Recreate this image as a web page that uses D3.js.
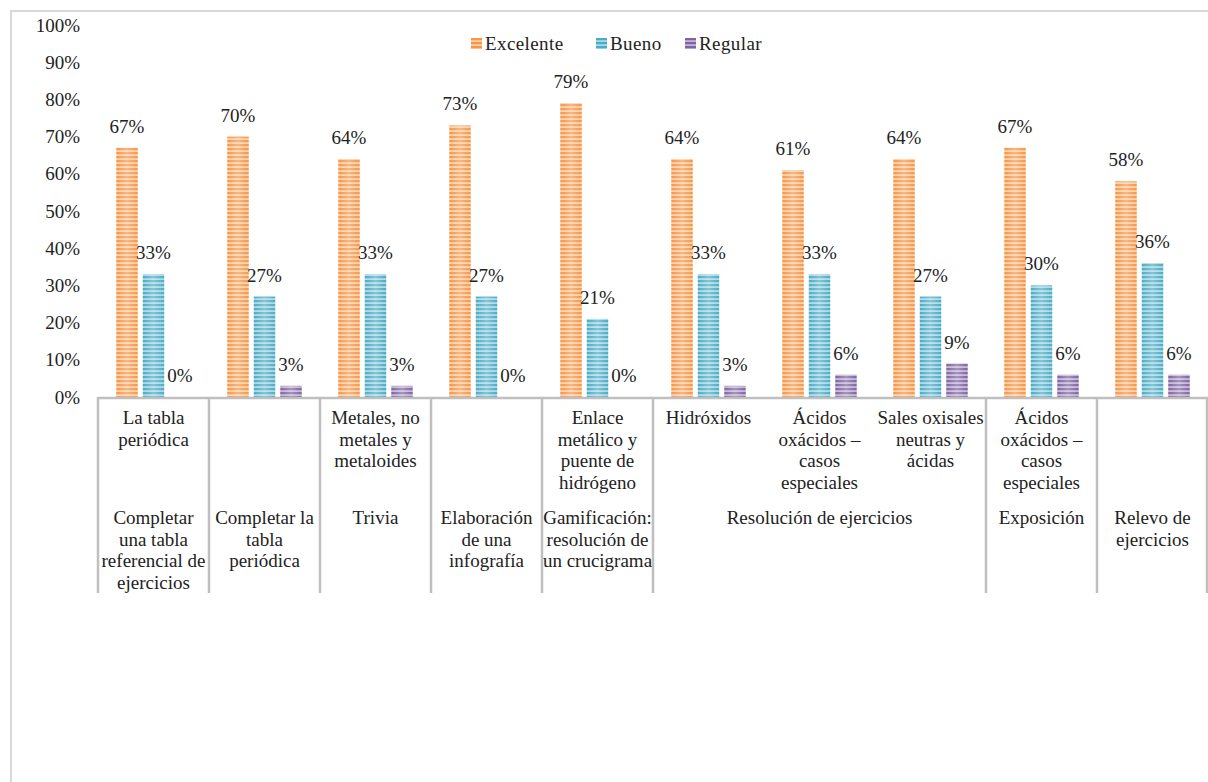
<!DOCTYPE html>
<html lang="es">
<head>
<meta charset="UTF-8">
<title>Resultados por actividad</title>
<script src="https://d3js.org/d3.v7.min.js"></script>
<style>
  body { margin: 0; background: #fff; }
  text { font-family: "Liberation Serif", "Times New Roman", serif; fill: #222; }
</style>
</head>
<body>
<script>
// Data
const series = ["Excelente", "Bueno", "Regular"];
const excelente = [67, 70, 64, 73, 79, 64, 61, 64, 67, 58];
const bueno = [33, 27, 33, 27, 21, 33, 33, 27, 30, 36];
const regular = [0, 3, 3, 0, 0, 3, 6, 9, 6, 6];
const innerLabels = [
  "La tabla\nperiódica", "", "Metales, no\nmetales y\nmetaloides", "",
  "Enlace\nmetálico y\npuente de\nhidrógeno", "Hidróxidos",
  "Ácidos\noxácidos –\ncasos\nespeciales", "Sales oxisales\nneutras y\nácidas",
  "Ácidos\noxácidos –\ncasos\nespeciales", ""
];
const outerLabels = [
  "Completar\nuna tabla\nreferencial de\nejercicios", "Completar la\ntabla\nperiódica",
  "Trivia", "Elaboración\nde una\ninfografía", "Gamificación:\nresolución de\nun crucigrama",
  "Resolución de ejercicios", "Exposición", "Relevo de\nejercicios"
];
const outerSpans = [1, 1, 1, 1, 1, 3, 1, 1];
const yTicks = [0, 10, 20, 30, 40, 50, 60, 70, 80, 90, 100];

const values = [excelente, bueno, regular];
const colors = [
  { main: "#F79646", light: "#FCCFA8" },
  { main: "#4BACC6", light: "#A9D8E5" },
  { main: "#8064A2", light: "#C3B5D6" }
];

const width = 1208, height = 782;
const fontSize = 19;
const svg = d3.select("body").append("svg")
  .attr("width", width).attr("height", height)
  .attr("font-family", "Liberation Serif, Times New Roman, serif");

// Patterns (striped fill)
const defs = svg.append("defs");
colors.forEach((c, i) => {
  const p = defs.append("pattern")
    .attr("id", "pat" + i)
    .attr("patternUnits", "userSpaceOnUse")
    .attr("width", 4).attr("height", 4);
  p.append("rect").attr("width", 4).attr("height", 4).attr("fill", c.light);
  p.append("rect").attr("width", 4).attr("height", 2.2).attr("fill", c.main);
});
const gloss = defs.append("linearGradient").attr("id", "gloss")
  .attr("x1", "0%").attr("x2", "100%");
gloss.append("stop").attr("offset", "0%").attr("stop-color", "#fff").attr("stop-opacity", 0);
gloss.append("stop").attr("offset", "50%").attr("stop-color", "#fff").attr("stop-opacity", 0.3);
gloss.append("stop").attr("offset", "100%").attr("stop-color", "#fff").attr("stop-opacity", 0);

// Outer frame
svg.append("path")
  .attr("d", `M11,${height} V11 H${width}`)
  .attr("fill", "none").attr("stroke", "#d9d9d9").attr("stroke-width", 2);

// Scales
const x = d3.scaleBand().domain(d3.range(excelente.length)).range([98, 1208]);
const xs = d3.scaleBand().domain(d3.range(series.length)).range([0, x.bandwidth()])
  .paddingInner(0.19).paddingOuter(0.69);
const y = d3.scaleLinear().domain([0, 100]).range([397, 25]);

// Y axis labels
svg.append("g").selectAll("text").data(yTicks).join("text")
  .attr("x", 80).attr("y", d => y(d)).attr("dy", "0.35em")
  .attr("text-anchor", "end").attr("font-size", fontSize)
  .text(d => d + "%");

// Bars
const groups = svg.append("g").selectAll("g").data(d3.range(excelente.length)).join("g")
  .attr("transform", i => `translate(${x(i)},0)`);
series.forEach((s, si) => {
  groups.append("rect")
    .attr("x", xs(si)).attr("width", xs.bandwidth())
    .attr("y", i => y(values[si][i])).attr("height", i => y(0) - y(values[si][i]))
    .attr("fill", `url(#pat${si})`);
  groups.append("rect")
    .attr("x", xs(si)).attr("width", xs.bandwidth())
    .attr("y", i => y(values[si][i])).attr("height", i => y(0) - y(values[si][i]))
    .attr("fill", "url(#gloss)");
  groups.append("text")
    .attr("x", xs(si) + xs.bandwidth() / 2)
    .attr("y", i => y(values[si][i]) - 15)
    .attr("text-anchor", "middle").attr("font-size", fontSize)
    .text(i => values[si][i] + "%");
});

// Category axis (two levels)
const axisColor = "#bfbfbf";
svg.append("line")
  .attr("x1", x(0)).attr("x2", width).attr("y1", y(0) + 1).attr("y2", y(0) + 1)
  .attr("stroke", axisColor).attr("stroke-width", 2.5);

let start = 0;
const outerPos = outerSpans.map(sp => { const o = { start, end: start + sp }; start += sp; return o; });
const bounds = [0, ...outerPos.map(o => o.end)];
svg.append("g").selectAll("line").data(bounds).join("line")
  .attr("x1", b => b < excelente.length ? x(b) : width - 1)
  .attr("x2", b => b < excelente.length ? x(b) : width - 1)
  .attr("y1", y(0)).attr("y2", 593)
  .attr("stroke", axisColor).attr("stroke-width", 2.5);

const lineH = 21.5;
function multiline(sel, yTop) {
  sel.each(function (d) {
    const t = d3.select(this);
    d.text.split("\n").forEach((ln, k) => {
      t.append("tspan").attr("x", d.cx).attr("y", yTop + k * lineH).text(ln);
    });
  });
}

svg.append("g").selectAll("text")
  .data(innerLabels.map((t, i) => ({ text: t, cx: x(i) + x.bandwidth() / 2 })))
  .join("text").attr("text-anchor", "middle").attr("font-size", fontSize)
  .call(multiline, 424);

svg.append("g").selectAll("text")
  .data(outerLabels.map((t, k) => ({
    text: t,
    cx: (x(outerPos[k].start) + x(outerPos[k].end - 1) + x.bandwidth()) / 2
  })))
  .join("text").attr("text-anchor", "middle").attr("font-size", fontSize)
  .call(multiline, 524);

// Legend
const legendX = [471, 596, 685];
const legend = svg.append("g").selectAll("g").data(series).join("g")
  .attr("transform", (d, i) => `translate(${legendX[i]},38)`);
legend.append("rect").attr("width", 11).attr("height", 11)
  .attr("fill", (d, i) => `url(#pat${i})`);
legend.append("text").attr("x", 14).attr("y", 5.5).attr("dy", "0.35em")
  .attr("font-size", fontSize).attr("letter-spacing", 0.4)
  .text(d => d);
</script>
</body>
</html>
